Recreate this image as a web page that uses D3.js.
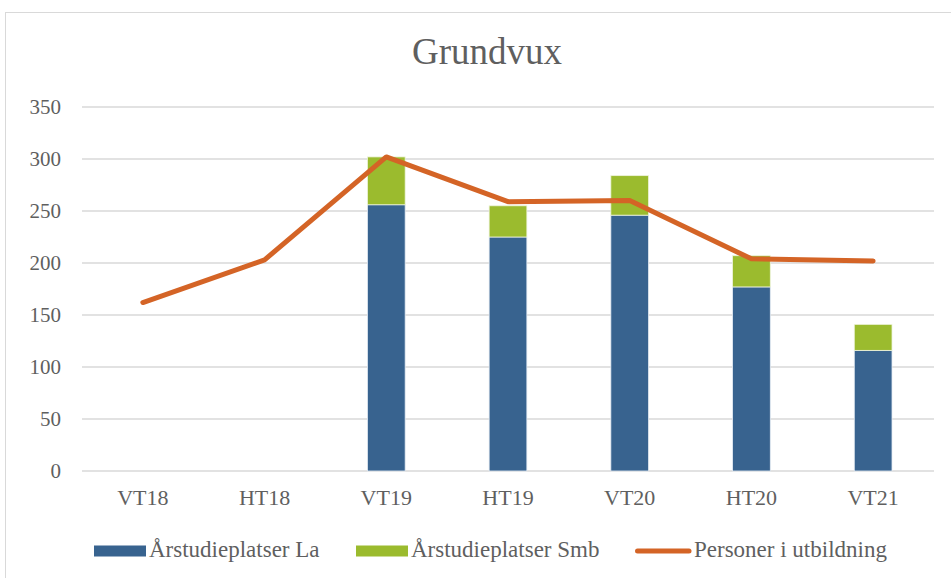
<!DOCTYPE html>
<html>
<head>
<meta charset="utf-8">
<script src="https://cdn.jsdelivr.net/npm/d3@7"></script>
<style>
  body { margin: 0; background: #fff; }
  text { font-family: "Liberation Serif", "DejaVu Serif", serif; fill: #5f5f5f; }
</style>
</head>
<body>
<svg id="chart" width="951" height="578"></svg>
<script>
var categories = ['VT18', 'HT18', 'VT19', 'HT19', 'VT20', 'HT20', 'VT21'];
var platserLa = [null, null, 256, 225, 246, 177, 116];
var platserSmb = [null, null, 46, 30, 38, 30, 25];
var personer = [162, 203, 302, 259, 260, 204, 202];
var yTicks = [0, 50, 100, 150, 200, 250, 300, 350];
var legendNames = ['Årstudieplatser La', 'Årstudieplatser Smb', 'Personer i utbildning'];

var colBlue = '#38638f', colGreen = '#9bbb2e', colOrange = '#d46426';
var svg = d3.select('#chart');

// outer frame
svg.append('rect')
    .attr('x', 5.5).attr('y', 12.5)
    .attr('width', 960).attr('height', 600)
    .attr('fill', 'none')
    .attr('stroke', '#d9d9d9');

var x = d3.scaleBand()
    .domain(categories)
    .range([82, 934])
    .paddingInner(0.69)
    .paddingOuter(0.345);

var y = d3.scaleLinear()
    .domain([0, 350])
    .range([471, 107]);

// gridlines
svg.selectAll('.grid')
    .data(yTicks)
    .join('line')
    .attr('class', 'grid')
    .attr('x1', 82).attr('x2', 934)
    .attr('y1', d => y(d)).attr('y2', d => y(d))
    .attr('stroke', '#d9d9d9')
    .attr('stroke-width', 1.3);

// y tick labels
svg.selectAll('.ylab')
    .data(yTicks)
    .join('text')
    .attr('class', 'ylab')
    .attr('x', 61)
    .attr('y', d => y(d))
    .attr('dy', '0.35em')
    .attr('text-anchor', 'end')
    .style('font-size', '21px')
    .text(d => d);

// stacked bars
var barData = categories.map((c, i) => ({cat: c, la: platserLa[i], smb: platserSmb[i]}))
    .filter(d => d.la != null);

svg.selectAll('.barLa')
    .data(barData)
    .join('rect')
    .attr('class', 'barLa')
    .attr('x', d => x(d.cat))
    .attr('width', x.bandwidth())
    .attr('y', d => y(d.la))
    .attr('height', d => y(0) - y(d.la))
    .attr('fill', colBlue)
    .attr('stroke', '#e6edf4')
    .attr('stroke-width', 0.8);

svg.selectAll('.barSmb')
    .data(barData)
    .join('rect')
    .attr('class', 'barSmb')
    .attr('x', d => x(d.cat))
    .attr('width', x.bandwidth())
    .attr('y', d => y(d.la + d.smb))
    .attr('height', d => y(d.la) - y(d.la + d.smb))
    .attr('fill', colGreen)
    .attr('stroke', '#eef4dc')
    .attr('stroke-width', 0.8);

// line
var line = d3.line()
    .x((d, i) => x(categories[i]) + x.bandwidth() / 2)
    .y(d => y(d));

svg.append('path')
    .datum(personer)
    .attr('d', line)
    .attr('fill', 'none')
    .attr('stroke', colOrange)
    .attr('stroke-width', 5)
    .attr('stroke-linecap', 'round')
    .attr('stroke-linejoin', 'round');

// x labels
svg.selectAll('.xlab')
    .data(categories)
    .join('text')
    .attr('class', 'xlab')
    .attr('x', d => x(d) + x.bandwidth() / 2)
    .attr('y', 505)
    .attr('text-anchor', 'middle')
    .style('font-size', '22px')
    .text(d => d);

// title
svg.append('text')
    .attr('x', 487)
    .attr('y', 64)
    .attr('text-anchor', 'middle')
    .style('font-size', '37px')
    .text('Grundvux');

// legend
var legendX = [94, 356, 635];
var legend = svg.selectAll('.legend')
    .data(legendNames)
    .join('g')
    .attr('class', 'legend')
    .attr('transform', (d, i) => 'translate(' + legendX[i] + ',551)');

legend.each(function(d, i) {
    var g = d3.select(this);
    if (i < 2) {
        g.append('rect')
            .attr('x', 0).attr('y', -5.5)
            .attr('width', 52).attr('height', 11)
            .attr('fill', i == 0 ? colBlue : colGreen);
    } else {
        g.append('line')
            .attr('x1', 2.5).attr('x2', 54)
            .attr('y1', 0).attr('y2', 0)
            .attr('stroke', colOrange)
            .attr('stroke-width', 5)
            .attr('stroke-linecap', 'round');
    }
    g.append('text')
        .attr('x', i < 2 ? 55 : 59)
        .attr('y', 6)
        .style('font-size', '23px')
        .text(d);
});
</script>
</body>
</html>
